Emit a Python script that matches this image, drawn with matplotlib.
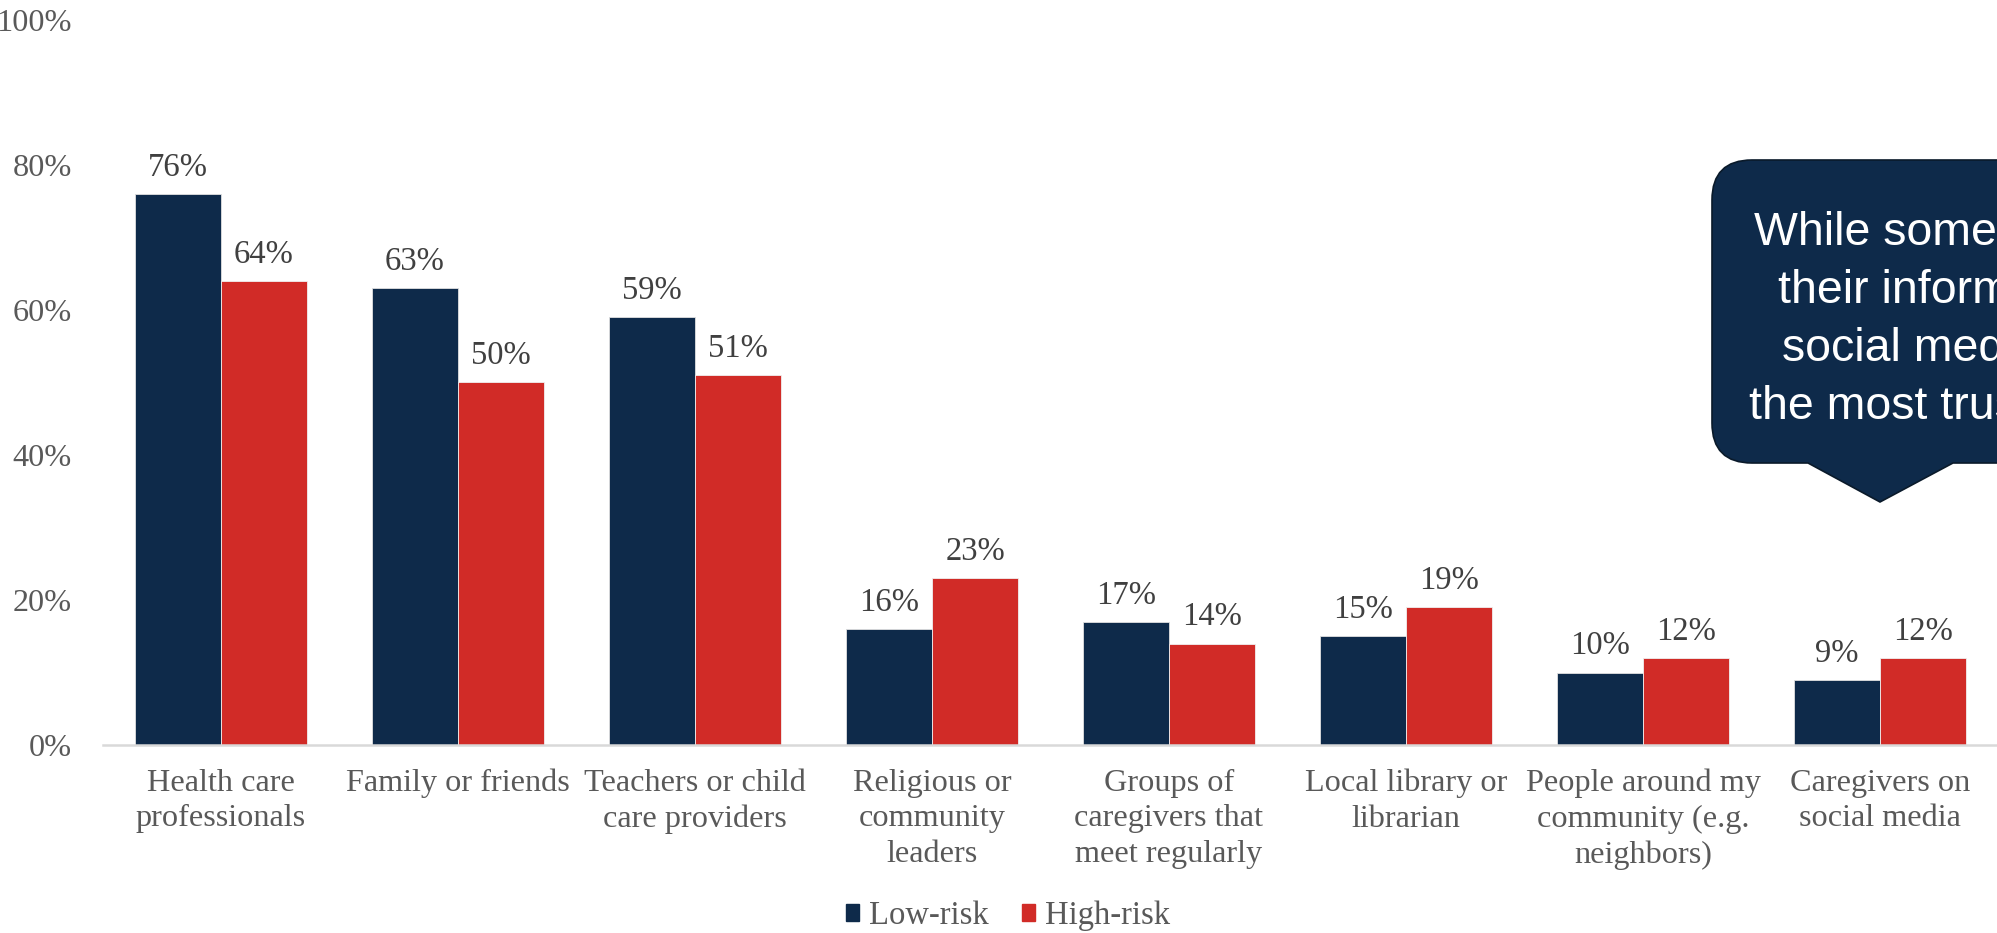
import matplotlib
matplotlib.use("Agg")
import matplotlib.pyplot as plt
import numpy as np
from matplotlib.path import Path
from matplotlib.patches import PathPatch, Patch

categorias = ["Health care\nprofessionals", "Family or friends", "Teachers or child\ncare providers",
              "Religious or\ncommunity\nleaders", "Groups of\ncaregivers that\nmeet regularly",
              "Local library or\nlibrarian", "People around my\ncommunity (e.g.\nneighbors)",
              "Caregivers on\nsocial media"]
baixo_risco = [76, 63, 59, 16, 17, 15, 10, 9]
alto_risco = [64, 50, 51, 23, 14, 19, 12, 12]
series = ["Low-risk", "High-risk"]
yticks = [0, 20, 40, 60, 80, 100]
balao_texto = "While some parents get\ntheir information from\nsocial media, it is not\nthe most trusted source."

azul = "#0E2A4A"
vermelho = "#D12B27"
cinza = "#595959"

W, H = 1997, 933
fig = plt.figure(figsize=(W / 100, H / 100), dpi=100)
ax = fig.add_axes([102.5 / W, (H - 745) / H, 1896 / W, 725 / H])

x = np.arange(len(categorias))
larg = 0.363
b1 = ax.bar(x - larg / 2, baixo_risco, larg, color=azul, edgecolor="#E0E0E0", linewidth=0.6, label=series[0])
b2 = ax.bar(x + larg / 2, alto_risco, larg, color=vermelho, edgecolor="#F0F0F0", linewidth=0.6, label=series[1])

for barras in (b1, b2):
    ax.bar_label(barras, labels=[f"{v:.0f}%" for v in barras.datavalues], padding=8,
                 fontsize=23.5, color="#404040", family="Liberation Serif")

ax.set_xlim(-0.5, len(categorias) - 0.5)
ax.set_ylim(0, 100)
ax.set_yticks(yticks)
ax.set_yticklabels([f"{v}%" for v in yticks])
ax.set_xticks(x)
ax.set_xticklabels(categorias, linespacing=1.3)
ax.tick_params(length=0, labelsize=23.2, labelcolor=cinza)
ax.tick_params(axis="y", pad=22)
ax.tick_params(axis="x", pad=17)
for lab in ax.get_xticklabels() + ax.get_yticklabels():
    lab.set_family("Liberation Serif")

for s in ["top", "right", "left"]:
    ax.spines[s].set_visible(False)
ax.spines["bottom"].set_color("#D9D9D9")
ax.spines["bottom"].set_linewidth(1.8)

handles = [Patch(color=azul), Patch(color=vermelho)]
fig.legend(handles, series, loc="center", bbox_to_anchor=(1008 / W, (H - 916) / H), ncol=2,
           frameon=False, handlelength=0.42, handleheight=0.42, handletextpad=0.3, columnspacing=1.0,
           prop={"family": "Liberation Serif", "size": 23.5}, labelcolor=cinza)

# balao (callout) em pixels da figura, y para baixo
L, T, R, B, r = 1712, 160, 2280, 463, 40
p1, pt, p2, ty = 1808, 1880, 1953, 502
pts = [(L + r, T), (R - r, T), (R, T), (R, T + r), (R, B - r), (R, B), (R - r, B),
       (p2, B), (pt, ty), (p1, B), (L + r, B), (L, B), (L, B - r), (L, T + r), (L, T), (L + r, T), (L + r, T)]
codes = [Path.MOVETO, Path.LINETO, Path.CURVE3, Path.CURVE3, Path.LINETO, Path.CURVE3, Path.CURVE3,
         Path.LINETO, Path.LINETO, Path.LINETO, Path.LINETO, Path.CURVE3, Path.CURVE3, Path.LINETO,
         Path.CURVE3, Path.CURVE3, Path.CLOSEPOLY]
verts = [(px / 100, (H - py) / 100) for px, py in pts]
balao = PathPatch(Path(verts, codes), facecolor=azul, edgecolor="#0A1A2A", linewidth=1.2,
                  transform=fig.dpi_scale_trans)
fig.add_artist(balao)
fig.text(1998 / W, (H - 320) / H, balao_texto, ha="center", va="center", multialignment="center",
         color="white", fontsize=33.5, family="Liberation Sans", linespacing=1.42)

fig.savefig("out.png", dpi=100)
